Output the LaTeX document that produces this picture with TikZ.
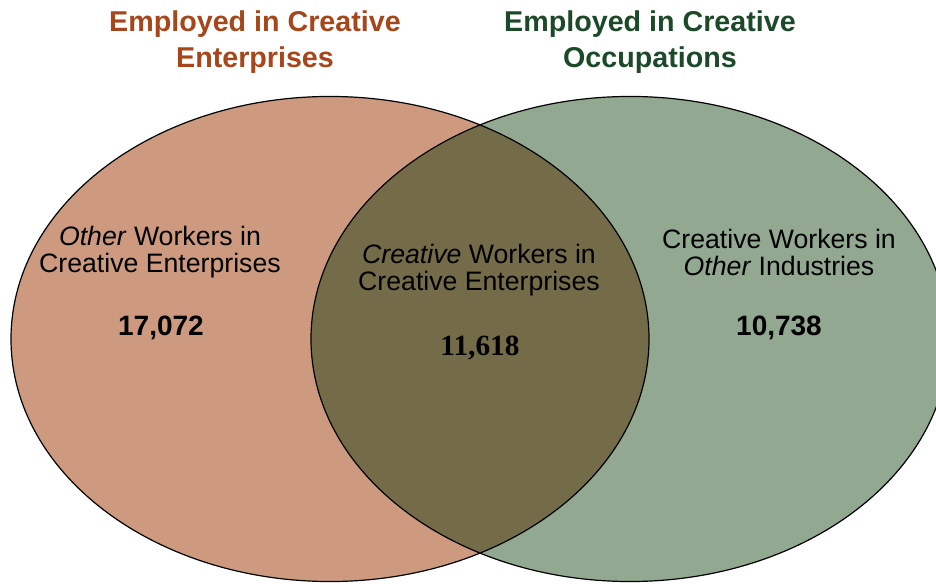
\documentclass[tikz,border=0pt]{standalone}
\usepackage{fontspec}
\setmainfont{Liberation Sans}
\newfontfamily\serifnum{Liberation Serif}
\definecolor{entfill}{HTML}{CD9A80}
\definecolor{occfill}{HTML}{92A891}
\definecolor{bothfill}{HTML}{746C48}
\definecolor{enttitle}{HTML}{A6461A}
\definecolor{occtitle}{HTML}{1C4A28}
\begin{document}
\begin{tikzpicture}[x=0.75pt,y=-0.75pt,
  settitle/.style={font=\fontsize{21.5}{27}\selectfont\bfseries, align=center, inner sep=0pt},
  setlabel/.style={font=\fontsize{20}{20.25}\selectfont, align=center, text=black, inner sep=0pt},
  setcount/.style={font=\fontsize{21}{25}\selectfont\bfseries, inner sep=0pt},
  vennedge/.style={draw=black, line width=0.9pt},
  entshape/.style={x radius=239.25pt, y radius=181.9pt},
]
\useasboundingbox (0,0) rectangle (936,584);
\clip (0,0) rectangle (936,584);
% sets
\fill[entfill] (330,339) ellipse [entshape];
\fill[occfill] (630,339) ellipse [entshape];
\begin{scope}
  \clip (330,339) ellipse [entshape];
  \fill[bothfill] (630,339) ellipse [entshape];
\end{scope}
\draw[vennedge] (330,339) ellipse [entshape];
\draw[vennedge] (630,339) ellipse [entshape];
% titles
\node[settitle, text=enttitle] (tEnt) at (255,42) {Employed in Creative\\Enterprises};
\node[settitle, text=occtitle] (tOcc) at (650,42) {Employed in Creative\\Occupations};
% region labels
\node[setlabel] (lEnt) at (160,252) {\textit{Other} Workers in\\Creative Enterprises};
\node[setcount] (nEnt) at (161,328) {17,072};
\node[setlabel] (lBoth) at (479,270) {\textit{Creative} Workers in\\Creative Enterprises};
\node[setcount, font=\serifnum\fontsize{22}{25}\selectfont\bfseries] (nBoth) at (480,348) {11,618};
\node[setlabel] (lOcc) at (779,252) {Creative Workers in\\\textit{Other} Industries};
\node[setcount] (nOcc) at (779,328) {10,738};
\end{tikzpicture}
\end{document}
